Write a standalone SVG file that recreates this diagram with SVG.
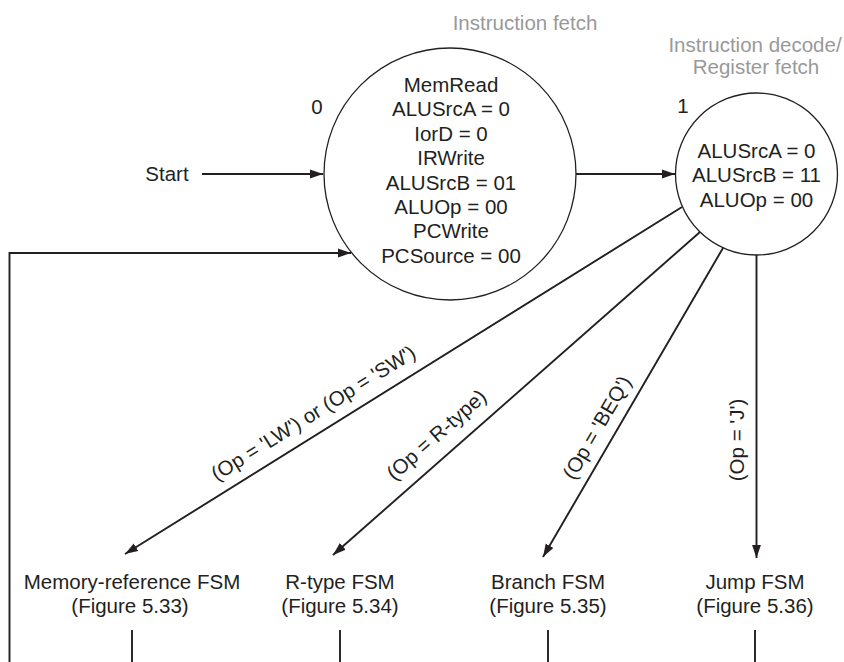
<svg xmlns="http://www.w3.org/2000/svg" width="844" height="662" viewBox="0 0 844 662">
  <defs>
    <style>
      text { font-family: "Liberation Sans", Arial, Helvetica, sans-serif; font-size: 20.5px; fill: #231f20; }
      .c { text-anchor: middle; }
      .gray { fill: #999999; }
      .state { fill: #ffffff; stroke: #231f20; stroke-width: 1.3; }
      .wire { fill: none; stroke: #231f20; stroke-width: 1.9; }
    </style>
    <marker id="ah" markerWidth="14" markerHeight="10" refX="13" refY="5" orient="auto" markerUnits="userSpaceOnUse">
      <path d="M0,0.6 L13,5 L0,9.4 Z" fill="#231f20"/>
    </marker>
  </defs>

  <rect width="844" height="662" fill="#ffffff"/>

  <g id="phase-labels">
    <text class="c gray" x="525" y="30">Instruction fetch</text>
    <text class="c gray" x="755" y="51.5">Instruction decode/</text>
    <text class="c gray" x="756" y="74">Register fetch</text>
  </g>

  <g id="connectors">
    <line class="wire" x1="202" y1="174" x2="323" y2="174" marker-end="url(#ah)"/>
    <line class="wire" x1="576" y1="174" x2="675" y2="174" marker-end="url(#ah)"/>
    <polyline class="wire" points="9.5,662 9.5,253 351,253" marker-end="url(#ah)"/>
    <line class="wire" x1="682" y1="207" x2="125" y2="554" marker-end="url(#ah)"/>
    <line class="wire" x1="700" y1="232" x2="333" y2="555" marker-end="url(#ah)"/>
    <line class="wire" x1="723" y1="248" x2="543" y2="557" marker-end="url(#ah)"/>
    <line class="wire" x1="756.5" y1="255" x2="756.5" y2="558" marker-end="url(#ah)"/>
    <line class="wire" x1="132" y1="630" x2="132" y2="662"/>
    <line class="wire" x1="340" y1="630" x2="340" y2="662"/>
    <line class="wire" x1="548" y1="630" x2="548" y2="662"/>
    <line class="wire" x1="755" y1="630" x2="755" y2="662"/>
    <text class="c" transform="translate(317,419) rotate(-32)">(Op = 'LW') or (Op = 'SW')</text>
    <text class="c" transform="translate(441,440) rotate(-41.35)">(Op = R-type)</text>
    <text class="c" transform="translate(603,431) rotate(-59.8)">(Op = 'BEQ')</text>
    <text class="c" transform="translate(743.5,440) rotate(-90)">(Op = 'J')</text>
  </g>

  <g id="start">
    <text class="c" x="167" y="180.5">Start</text>
  </g>

  <g id="state0">
    <circle class="state" cx="450" cy="174" r="126"/>
    <text class="c" x="317" y="114">0</text>
    <text class="c" x="451" y="92">MemRead</text>
    <text class="c" x="451" y="116.4">ALUSrcA = 0</text>
    <text class="c" x="451" y="140.8">IorD = 0</text>
    <text class="c" x="451" y="165.2">IRWrite</text>
    <text class="c" x="451" y="189.6">ALUSrcB = 01</text>
    <text class="c" x="451" y="214">ALUOp = 00</text>
    <text class="c" x="451" y="238.4">PCWrite</text>
    <text class="c" x="451" y="262.8">PCSource = 00</text>
  </g>

  <g id="state1">
    <circle class="state" cx="756.5" cy="174" r="81"/>
    <text class="c" x="683" y="113">1</text>
    <text class="c" x="756.5" y="157.5">ALUSrcA = 0</text>
    <text class="c" x="756.5" y="182">ALUSrcB = 11</text>
    <text class="c" x="756.5" y="206.5">ALUOp = 00</text>
  </g>

  <g id="memref-fsm">
    <text class="c" x="132" y="588.5">Memory-reference FSM</text>
    <text class="c" x="130" y="613">(Figure 5.33)</text>
  </g>
  <g id="rtype-fsm">
    <text class="c" x="340" y="588.5">R-type FSM</text>
    <text class="c" x="340" y="613">(Figure 5.34)</text>
  </g>
  <g id="branch-fsm">
    <text class="c" x="548" y="588.5">Branch FSM</text>
    <text class="c" x="548" y="613">(Figure 5.35)</text>
  </g>
  <g id="jump-fsm">
    <text class="c" x="755" y="588.5">Jump FSM</text>
    <text class="c" x="755" y="613">(Figure 5.36)</text>
  </g>
</svg>
